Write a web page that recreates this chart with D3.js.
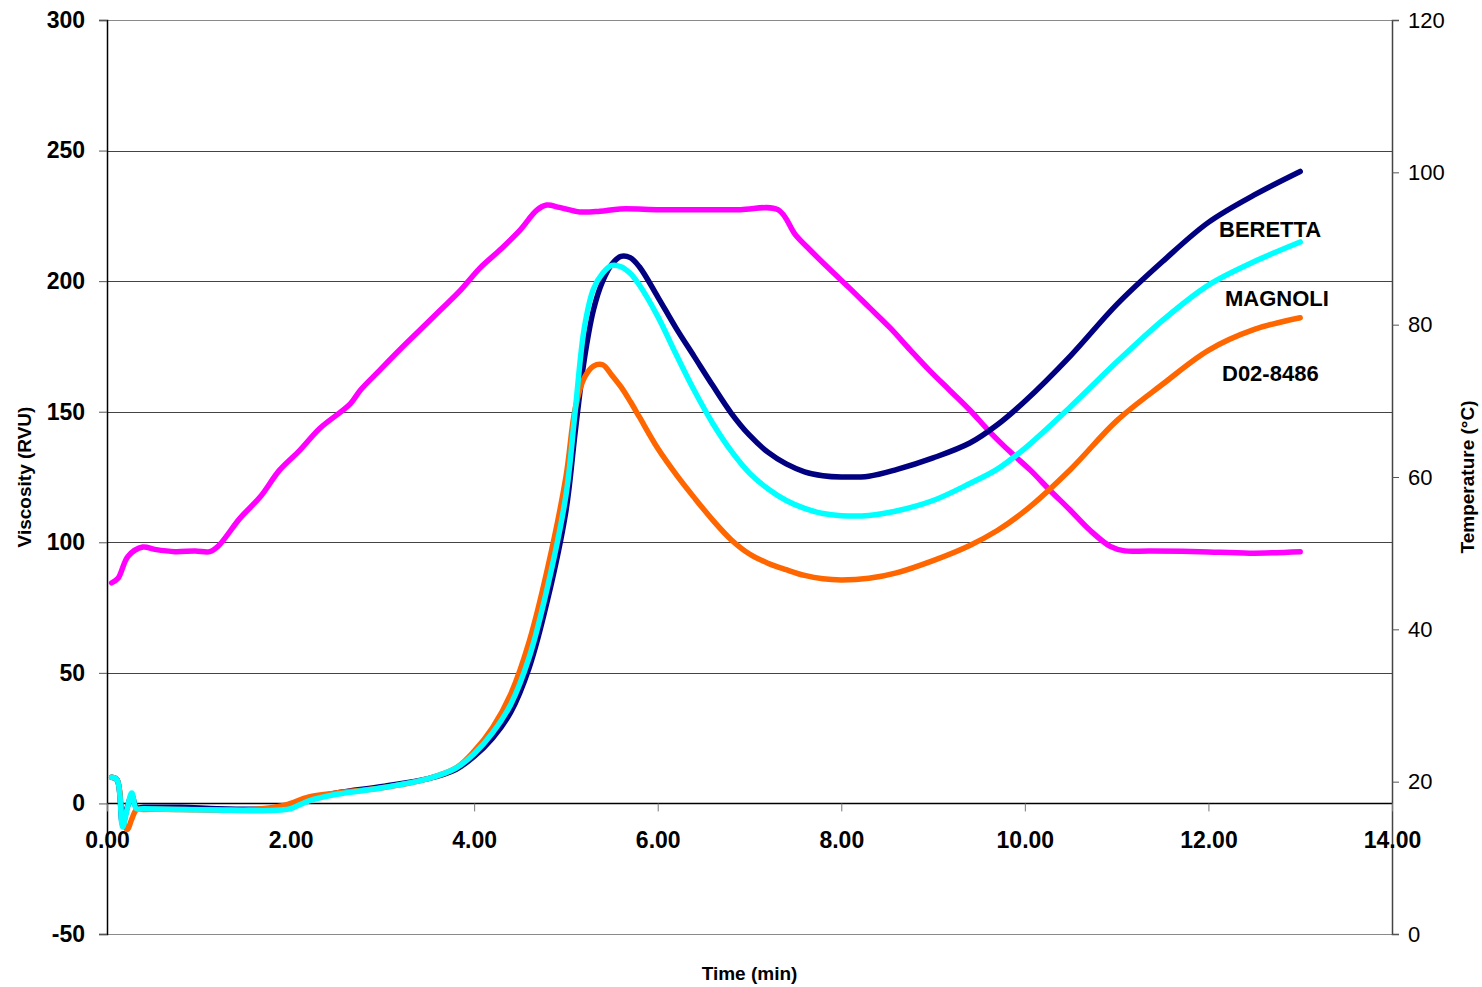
<!DOCTYPE html>
<html>
<head>
<meta charset="utf-8">
<script src="https://cdn.jsdelivr.net/npm/d3@7"></script>
<style>
  body { margin: 0; background: #fff; }
  text { font-family: "Liberation Sans", Arial, sans-serif; }
</style>
</head>
<body>
<div class="svgWrapper"></div>
<script>
// Data //
const viscTime = [0.05, 0.11, 0.17, 0.22, 0.27, 0.32, 0.4, 0.8, 1.2, 1.6, 1.9, 2.0, 2.2, 2.5, 3.0, 3.5, 3.8, 4.0, 4.2, 4.4, 4.6, 4.8, 5.0, 5.1, 5.2, 5.3, 5.4, 5.5, 5.6, 5.7, 5.8, 6.0, 6.2, 6.4, 6.6, 6.8, 7.0, 7.2, 7.4, 7.6, 7.8, 8.0, 8.3, 8.6, 9.0, 9.4, 9.7, 10.0, 10.5, 11.0, 11.5, 12.0, 12.5, 13.0];

const beretta = [10, 9, -8, -1.5, 3, -1.5, -1.5, -1.5, -2, -2.2, -2, -1.5, 1.5, 4, 6.5, 9.5, 13, 18, 25, 35, 52, 78, 112, 142, 170, 189, 200, 206.5, 209.5, 209, 205.5, 194, 182, 171, 160, 149.5, 141, 134.5, 130, 127, 125.5, 125, 125.3, 127.8, 132.3, 138, 145, 154, 171.5, 191, 207.5, 222.5, 233, 242];

const magnoli = [10, 9, -9, -2, 4, -2, -2, -2.3, -2.5, -2.8, -2.5, -2, 1, 3.5, 6, 9.5, 13.5, 19, 27, 38, 56, 83, 118, 150, 182, 197, 203, 206, 205.5, 203, 198.5, 186.5, 172, 158, 145.5, 135, 126.5, 120.5, 116, 113, 111, 110.2, 110.3, 112, 116, 122.5, 128, 136, 152, 169, 185, 198.5, 207.5, 215];

const d028486 = [10, 9, -6, -10, -6, -2.5, -2.3, -2.3, -2.5, -2.3, -1, 0, 2.5, 4, 6, 9.5, 13.5, 20, 29, 42, 62, 90, 125, 151, 163, 167.5, 168, 164, 159.5, 154, 148, 136, 126, 117, 108.5, 101, 95.5, 92, 89.5, 87.3, 86, 85.6, 86.2, 88.3, 93, 98.8, 104.5, 112, 128, 146.5, 160.5, 173.5, 181.5, 186];

const tempTime = [0.05, 0.12, 0.23, 0.39, 0.52, 0.74, 0.96, 1.12, 1.21, 1.45, 1.67, 1.88, 2.1, 2.32, 2.65, 2.76, 2.97, 3.19, 3.41, 3.63, 3.85, 4.06, 4.28, 4.5, 4.68, 4.79, 4.93, 5.15, 5.37, 5.59, 6.02, 6.46, 6.9, 7.31, 7.5, 7.66, 7.88, 8.09, 8.31, 8.53, 8.75, 8.96, 9.18, 9.4, 9.62, 9.84, 10.06, 10.27, 10.49, 10.71, 10.93, 11.09, 11.36, 11.91, 12.45, 13.0];

const temperature = [46.1, 46.7, 49.6, 50.8, 50.5, 50.2, 50.3, 50.2, 50.9, 54.6, 57.4, 60.9, 63.5, 66.4, 69.6, 71.4, 74.0, 76.7, 79.3, 81.9, 84.5, 87.4, 89.8, 92.4, 95.0, 95.7, 95.4, 94.8, 94.9, 95.2, 95.1, 95.1, 95.1, 95.1, 91.8, 89.8, 87.2, 84.8, 82.2, 79.6, 76.7, 74.0, 71.4, 68.8, 65.9, 63.3, 60.9, 58.3, 55.7, 53.0, 50.9, 50.3, 50.3, 50.2, 50.0, 50.2];

const xTicks = [0, 2, 4, 6, 8, 10, 12, 14];
const yTicks = [-50, 0, 50, 100, 150, 200, 250, 300];
const y2Ticks = [0, 20, 40, 60, 80, 100, 120];

const seriesNames = ["BERETTA", "MAGNOLI", "D02-8486"];

// Styles //
const svgStyles = { w: 1482, h: 987 };
const chartStyles = {
  margin: { top: 20, right: 90, bottom: 53, left: 107 }
};
chartStyles.w = svgStyles.w - chartStyles.margin.left - chartStyles.margin.right;
chartStyles.h = svgStyles.h - chartStyles.margin.top - chartStyles.margin.bottom;

const colors = {
  beretta: "#000080",
  magnoli: "#00FFFF",
  d02: "#FF6600",
  temp: "#FF00FF"
};

// Create graph
const svg = d3
  .select(".svgWrapper")
  .append("svg")
  .attr("width", svgStyles.w)
  .attr("height", svgStyles.h);

const chart = svg
  .append("g")
  .attr("transform", `translate(${chartStyles.margin.left}, ${chartStyles.margin.top})`);

// scales
const xScale = d3.scaleLinear().domain([0, 14]).range([0, chartStyles.w]);
const yScale = d3.scaleLinear().domain([-50, 300]).range([chartStyles.h, 0]);
const y2Scale = d3.scaleLinear().domain([0, 120]).range([chartStyles.h, 0]);

// gridlines
chart
  .selectAll(".grid")
  .data(yTicks)
  .enter()
  .append("line")
  .attr("x1", 0)
  .attr("x2", chartStyles.w)
  .attr("y1", d => Math.round(yScale(d)) + 0.5)
  .attr("y2", d => Math.round(yScale(d)) + 0.5)
  .attr("stroke", d => (d === 300 || d === -50 ? "#8a8a8a" : d === 0 ? "#000" : "#444"))
  .attr("stroke-width", d => (d === 0 ? 1.5 : 1.2));

// left axis
const yAxis = d3.axisLeft(yScale).tickValues(yTicks).tickSize(8).tickPadding(14).tickFormat(d => String(d));
chart
  .append("g")
  .attr("id", "y-axis")
  .call(yAxis)
  .call(g => g.select(".domain").attr("stroke", "#000").attr("stroke-width", 1.5))
  .call(g => g.selectAll(".tick line").attr("stroke", "#555"))
  .call(g =>
    g.selectAll(".tick text")
      .style("font-size", "23px")
      .style("font-weight", "bold")
      .attr("fill", "#000")
  );

// right axis
const y2Axis = d3.axisRight(y2Scale).tickValues(y2Ticks).tickSize(7).tickPadding(9);
chart
  .append("g")
  .attr("id", "y2-axis")
  .attr("transform", `translate(${chartStyles.w}, 0)`)
  .call(y2Axis)
  .call(g => g.select(".domain").attr("stroke", "#444").attr("stroke-width", 1.5))
  .call(g => g.selectAll(".tick line").attr("stroke", "#555"))
  .call(g => g.selectAll(".tick text").style("font-size", "22px").attr("fill", "#000"));

// x axis along zero
const xAxis = d3.axisBottom(xScale).tickValues(xTicks).tickSize(8).tickPadding(20).tickFormat(d3.format(".2f"));
chart
  .append("g")
  .attr("id", "x-axis")
  .attr("transform", `translate(0, ${yScale(0)})`)
  .call(xAxis)
  .call(g => g.select(".domain").remove())
  .call(g => g.selectAll(".tick line").attr("stroke", "#777"))
  .call(g =>
    g.selectAll(".tick text")
      .style("font-size", "23px")
      .style("font-weight", "bold")
      .attr("fill", "#000")
  );

// lines
const viscLine = d3
  .line()
  .x((d, i) => xScale(viscTime[i]))
  .y(d => yScale(d))
  .curve(d3.curveCatmullRom.alpha(0.5));

const tempLine = d3
  .line()
  .x((d, i) => xScale(tempTime[i]))
  .y(d => y2Scale(d))
  .curve(d3.curveCatmullRom.alpha(0.5));

chart
  .append("path")
  .datum(temperature)
  .attr("d", tempLine)
  .attr("fill", "none")
  .attr("stroke", colors.temp)
  .attr("stroke-width", 5.5)
  .attr("stroke-linejoin", "round")
  .attr("stroke-linecap", "round");

[
  { values: beretta, color: colors.beretta },
  { values: d028486, color: colors.d02 },
  { values: magnoli, color: colors.magnoli }
].forEach(s => {
  chart
    .append("path")
    .datum(s.values)
    .attr("d", viscLine)
    .attr("fill", "none")
    .attr("stroke", s.color)
    .attr("stroke-width", 5.5)
    .attr("stroke-linejoin", "round")
    .attr("stroke-linecap", "round");
});

// series labels
const labelPos = [
  { x: 1219, y: 237 },
  { x: 1225, y: 306 },
  { x: 1222, y: 381 }
];
svg
  .selectAll(".seriesLabel")
  .data(seriesNames)
  .enter()
  .append("text")
  .attr("class", "seriesLabel")
  .attr("x", (d, i) => labelPos[i].x)
  .attr("y", (d, i) => labelPos[i].y)
  .style("font-size", "22px")
  .style("font-weight", "bold")
  .text(d => d);

// axis titles
svg
  .append("text")
  .attr("x", chartStyles.margin.left + chartStyles.w / 2)
  .attr("y", 980)
  .attr("text-anchor", "middle")
  .style("font-size", "19px")
  .style("font-weight", "bold")
  .text("Time (min)");

svg
  .append("text")
  .attr("transform", "translate(31, 477) rotate(-90)")
  .attr("text-anchor", "middle")
  .style("font-size", "19px")
  .style("font-weight", "bold")
  .text("Viscosity (RVU)");

svg
  .append("text")
  .attr("transform", "translate(1474, 477) rotate(-90)")
  .attr("text-anchor", "middle")
  .style("font-size", "19px")
  .style("font-weight", "bold")
  .text("Temperature (°C)");
</script>
</body>
</html>
